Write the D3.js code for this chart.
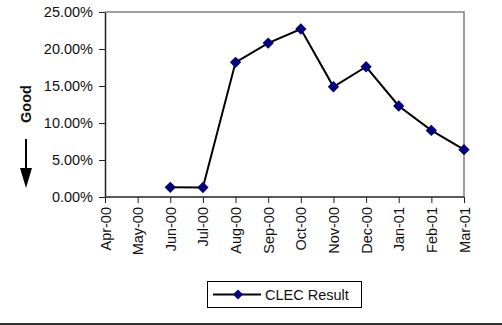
<!DOCTYPE html>
<html><head><meta charset="utf-8">
<script src="https://cdn.jsdelivr.net/npm/d3@7/dist/d3.min.js"></script>
<style>body{margin:0;background:#fff;}svg{display:block;}text{font-family:"Liberation Sans",Arial,sans-serif;}</style>
</head><body>
<script>
const months = ["Apr-00","May-00","Jun-00","Jul-00","Aug-00","Sep-00","Oct-00","Nov-00","Dec-00","Jan-01","Feb-01","Mar-01"];
const clecResult = [null,null,0.0131,0.0128,0.182,0.208,0.227,0.149,0.176,0.123,0.090,0.064];
const yTicks = [0,0.05,0.10,0.15,0.20,0.25];
const seriesName = "CLEC Result";

(function(){
const W=502,H=325,FS=14.5;
const svg=d3.select("body").append("svg").attr("width",W).attr("height",H);
const pL=105,pR=464,pT=12,pB=197;
const x=d3.scalePoint().domain(months).range([pL,pR]);
const y=d3.scaleLinear().domain([0,0.25]).range([pB,pT]);

svg.append("path").attr("d",`M${pL},${pT}H${pR}V${pB}`).attr("fill","none").attr("stroke","#808080").attr("stroke-width",1.5);

const yAxis=svg.append("g").attr("transform",`translate(${pL},0)`)
  .call(d3.axisLeft(y).tickValues(yTicks).tickFormat(d3.format(".2%")).tickSize(6).tickSizeOuter(0));
yAxis.select(".domain").attr("stroke","#222").attr("stroke-width",1.5);
yAxis.selectAll(".tick line").attr("stroke","#222");
yAxis.selectAll("text").attr("font-size",FS).attr("fill","#111").attr("x",-12).attr("font-family","Liberation Sans, Arial, sans-serif");

const xAxis=svg.append("g").attr("transform",`translate(0,${pB})`)
  .call(d3.axisBottom(x).tickSize(6).tickSizeOuter(0));
xAxis.select(".domain").attr("stroke","#222").attr("stroke-width",1.5).attr("d",`M${pL},0H${pR}`);
xAxis.selectAll(".tick line").attr("stroke","#222");
xAxis.selectAll("text").attr("font-size",FS).attr("fill","#111")
  .attr("transform","rotate(-90)").attr("text-anchor","end").attr("x",-10).attr("y",0).attr("dy","0.35em")
  .attr("font-family","Liberation Sans, Arial, sans-serif");

const pts=months.map((m,i)=>({m,v:clecResult[i]})).filter(d=>d.v!==null);
svg.append("path").datum(pts).attr("fill","none").attr("stroke","#000").attr("stroke-width",2)
  .attr("d",d3.line().x(d=>x(d.m)).y(d=>y(d.v)));
svg.selectAll(".pt").data(pts).enter().append("path")
  .attr("d",d3.symbol().type(d3.symbolSquare).size(64))
  .attr("transform",d=>`translate(${x(d.m)},${y(d.v)}) rotate(45)`)
  .attr("fill","#000080");

svg.append("text").attr("transform","translate(31,104) rotate(-90)").attr("text-anchor","middle")
  .attr("font-size",FS).attr("font-weight","bold").attr("fill","#111").text("Good");
svg.append("line").attr("x1",26).attr("x2",26).attr("y1",139).attr("y2",170).attr("stroke","#000").attr("stroke-width",2);
svg.append("path").attr("d","M20,168L32,168L26,188Z").attr("fill","#000");

const lg=svg.append("g");
lg.append("rect").attr("x",207.5).attr("y",281.5).attr("width",154).attr("height",26).attr("fill","#fff").attr("stroke","#000").attr("stroke-width",1);
lg.append("line").attr("x1",213).attr("x2",261).attr("y1",294.5).attr("y2",294.5).attr("stroke","#000").attr("stroke-width",2);
lg.append("path").attr("d",d3.symbol().type(d3.symbolSquare).size(50)).attr("transform","translate(238,294.5) rotate(45)").attr("fill","#000080");
lg.append("text").attr("x",265).attr("y",300).attr("font-size",FS).attr("fill","#111").text(seriesName);

svg.append("rect").attr("x",0).attr("y",323).attr("width",W).attr("height",2).attr("fill","#333");
})();
</script>
</body></html>
